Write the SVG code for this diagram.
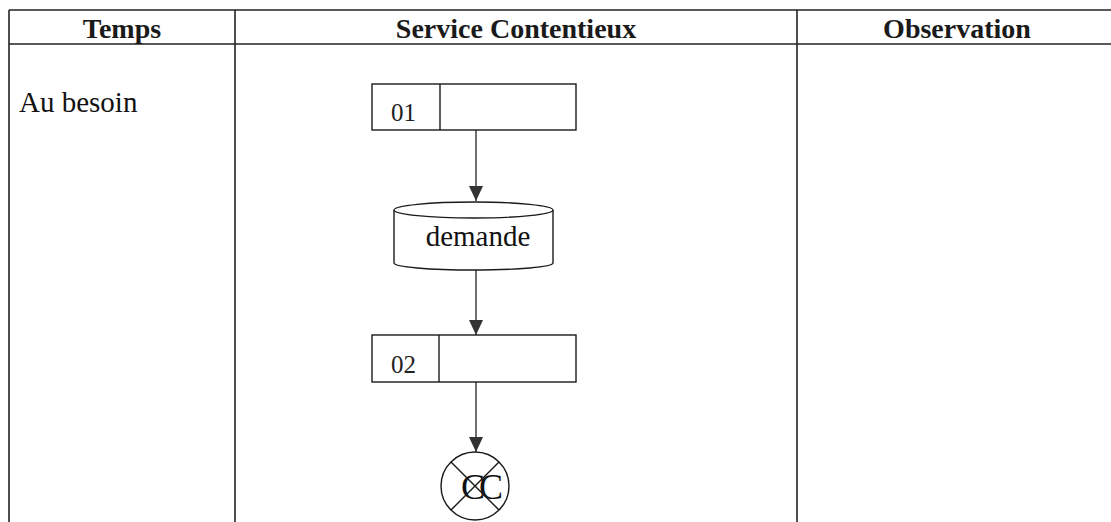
<svg xmlns="http://www.w3.org/2000/svg" width="1111" height="522" viewBox="0 0 1111 522">
  <style>
    .grid { stroke: #222; stroke-width: 1.6; fill: none; }
    .shape { stroke: #1a1a1a; stroke-width: 1.4; fill: #fff; }
    .edge { stroke: #222; stroke-width: 1.3; fill: none; marker-end: url(#arrow); }
    .head { font-family: "Liberation Serif", "Times New Roman", serif; font-weight: bold; font-size: 28px; fill: #1a1a1a; text-anchor: middle; }
    .txt { font-family: "Liberation Serif", "Times New Roman", serif; font-size: 29px; fill: #111; }
    .num { font-family: "Liberation Serif", "Times New Roman", serif; font-size: 25px; fill: #222; }
    .cc { font-family: "Liberation Serif", "Times New Roman", serif; font-size: 36px; fill: #111; letter-spacing: -6px; text-anchor: middle; }
  </style>
  <defs>
    <marker id="arrow" markerWidth="15" markerHeight="14" refX="15" refY="7" orient="auto" markerUnits="userSpaceOnUse" viewBox="0 0 15 14">
      <path d="M0,0 L15,7 L0,14 Z" fill="#333"/>
    </marker>
  </defs>
  <rect width="1111" height="522" fill="#fff"/>

  <!-- table frame -->
  <g id="table">
    <line class="grid" x1="9" y1="10" x2="1111" y2="10"/>
    <line class="grid" x1="9" y1="44" x2="1111" y2="44"/>
    <line class="grid" x1="9" y1="10" x2="9" y2="522"/>
    <line class="grid" x1="235" y1="10" x2="235" y2="522"/>
    <line class="grid" x1="797" y1="10" x2="797" y2="522"/>
    <text class="head" x="122" y="38">Temps</text>
    <text class="head" x="516" y="38">Service Contentieux</text>
    <text class="head" x="957" y="38">Observation</text>
    <text class="txt" x="19" y="112">Au besoin</text>
  </g>

  <!-- connectors -->
  <g id="connectors">
    <line class="edge" x1="476" y1="130" x2="476" y2="201"/>
    <line class="edge" x1="476" y1="270" x2="476" y2="335"/>
    <line class="edge" x1="476" y1="382" x2="476" y2="452"/>
  </g>

  <!-- step 01 -->
  <g id="step01">
    <rect class="shape" x="372" y="84" width="204" height="46"/>
    <line class="shape" x1="440" y1="84" x2="440" y2="130"/>
    <text class="num" x="391" y="121">01</text>
  </g>

  <!-- document store: demande -->
  <g id="demande">
    <path class="shape" d="M394,210 L394,263 A79.5,7 0 0 0 553,263 L553,210"/>
    <ellipse class="shape" cx="473.5" cy="210" rx="79.5" ry="8"/>
    <text class="txt" x="478" y="246" text-anchor="middle">demande</text>
  </g>

  <!-- step 02 -->
  <g id="step02">
    <rect class="shape" x="372" y="335" width="204" height="47"/>
    <line class="shape" x1="439" y1="335" x2="439" y2="382"/>
    <text class="num" x="391" y="373">02</text>
  </g>

  <!-- end: CC crossed -->
  <g id="end-cc">
    <circle class="shape" cx="475" cy="486" r="34"/>
    <text class="cc" x="479" y="499">CC</text>
    <line stroke="#1a1a1a" stroke-width="1.4" x1="451" y1="462" x2="499" y2="510"/>
    <line stroke="#1a1a1a" stroke-width="1.4" x1="499" y1="462" x2="451" y2="510"/>
  </g>
</svg>
